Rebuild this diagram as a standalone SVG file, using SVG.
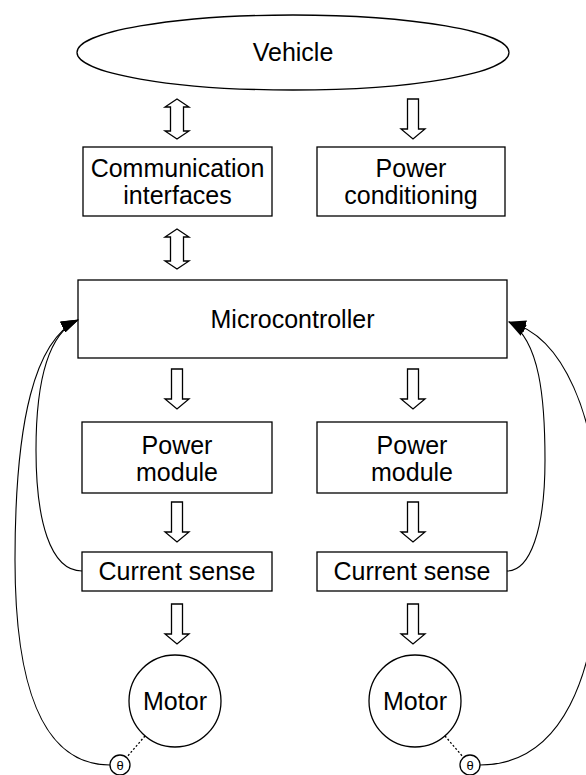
<svg xmlns="http://www.w3.org/2000/svg" xmlns:xlink="http://www.w3.org/1999/xlink" width="586" height="775" viewBox="0 0 586 775">
  <style>
    .box { fill: #ffffff; stroke: #000000; stroke-width: 1.3; }
    .flow { fill: #ffffff; stroke: #000000; stroke-width: 1.3; stroke-linejoin: miter; }
    .fb { fill: none; stroke: #000000; stroke-width: 1.1; }
    .dot { fill: none; stroke: #000000; stroke-width: 1.3; stroke-dasharray: 2 2; }
    .lbl { font-family: "Liberation Sans", Arial, sans-serif; font-size: 25px; fill: #000000; text-anchor: middle; }
    .sm { font-family: "Liberation Sans", Arial, sans-serif; font-size: 13px; fill: #000000; text-anchor: middle; }
  </style>
  <defs>
    <!-- hollow block arrows, origin at the top centre, 40 px tall -->
    <path id="down" d="M-5.5,0 H5.5 V30 H12 L0,40 L-12,30 H-5.5 Z"/>
    <path id="both" d="M0,0 L12,8 H6.5 V32 H12 L0,40 L-12,32 H-6.5 V8 H-12 Z"/>
    <marker id="head" viewBox="0 0 18 12" refX="17" refY="6" markerWidth="18" markerHeight="12" markerUnits="userSpaceOnUse" orient="auto">
      <path d="M0,0 L18,6 L0,12 Z" fill="#000000"/>
    </marker>
  </defs>

  <g id="vehicle">
    <ellipse class="box" cx="293" cy="52.5" rx="216" ry="37.5"/>
    <text class="lbl" x="293" y="61">Vehicle</text>
  </g>

  <g id="comm">
    <rect class="box" x="83" y="147" width="189" height="69"/>
    <text class="lbl" x="177.5" y="177">Communication</text>
    <text class="lbl" x="177.5" y="204">interfaces</text>
  </g>

  <g id="power-conditioning">
    <rect class="box" x="317" y="147" width="188" height="69"/>
    <text class="lbl" x="411" y="177">Power</text>
    <text class="lbl" x="411" y="204">conditioning</text>
  </g>

  <g id="mcu">
    <rect class="box" x="78" y="280" width="429" height="78"/>
    <text class="lbl" x="292.5" y="328">Microcontroller</text>
  </g>

  <g id="power-module-a">
    <rect class="box" x="82" y="422" width="190" height="71"/>
    <text class="lbl" x="177" y="454">Power</text>
    <text class="lbl" x="177" y="481">module</text>
  </g>

  <g id="power-module-b">
    <rect class="box" x="317" y="422" width="190" height="71"/>
    <text class="lbl" x="412" y="454">Power</text>
    <text class="lbl" x="412" y="481">module</text>
  </g>

  <g id="sense-a">
    <rect class="box" x="82" y="552" width="190" height="39"/>
    <text class="lbl" x="177" y="580">Current sense</text>
  </g>

  <g id="sense-b">
    <rect class="box" x="317" y="552" width="190" height="39"/>
    <text class="lbl" x="412" y="580">Current sense</text>
  </g>

  <g id="motor-a">
    <circle class="box" cx="175" cy="701" r="46"/>
    <text class="lbl" x="175" y="709.5">Motor</text>
  </g>

  <g id="motor-b">
    <circle class="box" cx="415" cy="701" r="46"/>
    <text class="lbl" x="415" y="709.5">Motor</text>
  </g>

  <g id="encoder-a">
    <circle class="box" cx="120" cy="765" r="10"/>
    <text class="sm" x="120" y="770">θ</text>
  </g>

  <g id="encoder-b">
    <circle class="box" cx="470" cy="765" r="10"/>
    <text class="sm" x="470" y="770">θ</text>
  </g>

  <g id="connectors">
    <!-- block arrows between stages -->
    <use href="#both" class="flow" x="177" y="99"/>
    <use href="#down" class="flow" x="413" y="99"/>
    <use href="#both" class="flow" x="177" y="229"/>
    <use href="#down" class="flow" x="177" y="369"/>
    <use href="#down" class="flow" x="413" y="369"/>
    <use href="#down" class="flow" x="177" y="502"/>
    <use href="#down" class="flow" x="413" y="502"/>
    <use href="#down" class="flow" x="177" y="604"/>
    <use href="#down" class="flow" x="413" y="604"/>

    <!-- motor shaft to position sensor -->
    <line class="dot" x1="145" y1="736" x2="126.5" y2="757.5"/>
    <line class="dot" x1="445" y1="736" x2="463.5" y2="757.5"/>

    <!-- feedback into the microcontroller, left side -->
    <path class="fb" d="M82,571 C50,571 36,520 36,450 C36,390 45,335 78,320" marker-end="url(#head)"/>
    <path class="fb" d="M110,765 C40,765 15,680 15,560 C15,420 35,340 78,320" marker-end="url(#head)"/>

    <!-- feedback into the microcontroller, right side -->
    <path class="fb" d="M507,571 C530,571 545,530 545,460 C545,400 540,340 509,322" marker-end="url(#head)"/>
    <path class="fb" d="M480,765 C560,765 600,680 600,540 C600,410 560,335 509,322" marker-end="url(#head)"/>
  </g>
</svg>
